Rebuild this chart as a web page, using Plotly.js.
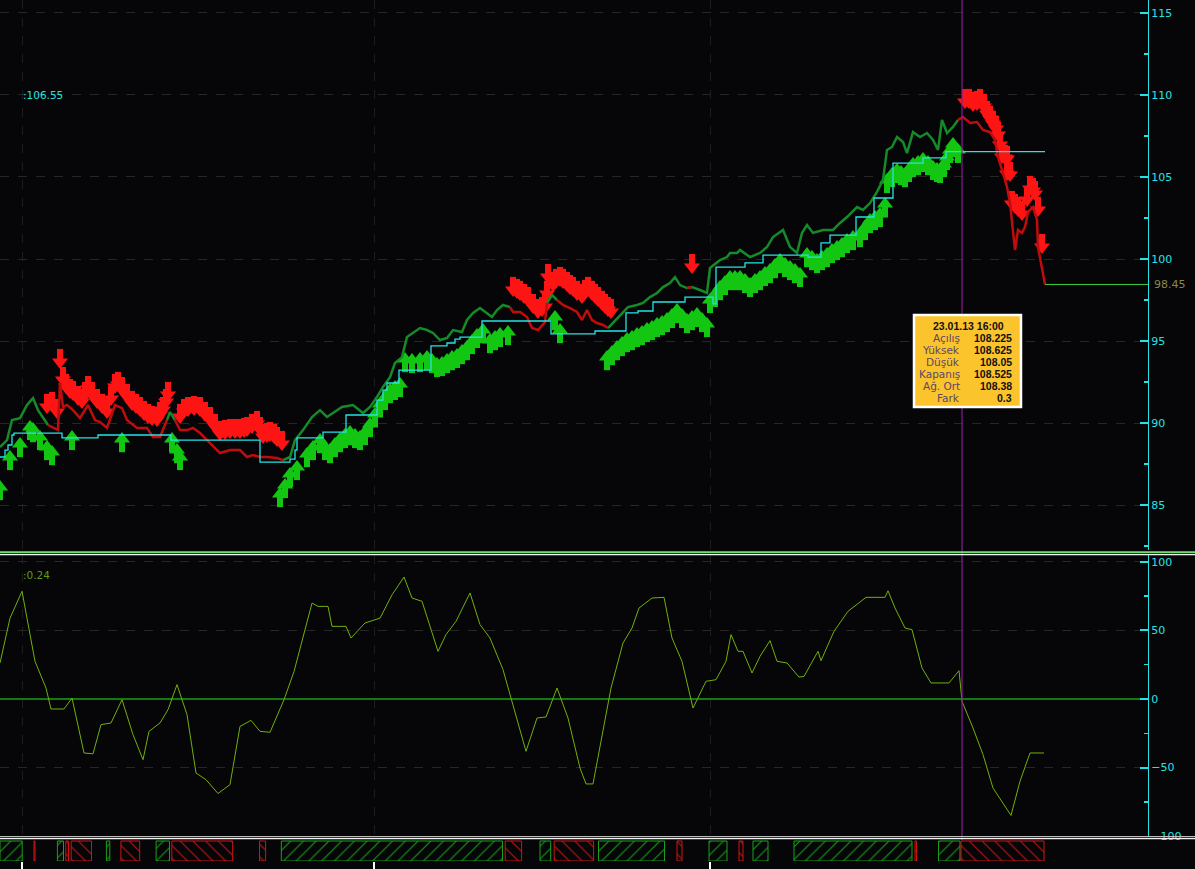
<!DOCTYPE html>
<html><head><meta charset="utf-8">
<script src="https://cdn.plot.ly/plotly-3.0.1.min.js"></script>
<style>html,body{margin:0;padding:0;background:#060608;overflow:hidden}#chart{width:1195px;height:869px}</style>
</head><body><div id="chart"></div>
<script>
// ---------- DATA ----------
const priceX = [0,7,12,20,27,33,38,43,48,
 53,58,60,63,67,73,80,88,95,100,107,115,122,127,137,147,153,160,167,
 170,175,
 180,187,193,200,210,220,230,240,247,253,260,267,277,283,
 290,295,303,312,320,327,333,342,353,363,370,377,383,390,395,402,407,413,420,427,433,440,447,453,462,467,473,480,487,492,497,503,510,
 513,520,527,532,538,545,547,
 552,557,
 563,570,577,582,587,592,597,603,608,
 613,620,628,637,643,650,657,663,670,675,680,687,
 692,
 700,707,710,717,720,727,730,737,740,750,760,767,773,783,790,797,802,807,813,823,833,840,847,857,863,870,877,883,887,892,897,903,907,913,920,927,933,938,942,947,953,958,
 963,970,977,983,990,995,998,1002,1007,1010,1013,1015,1018,1022,1025,1028,1033,1037,1038,1042,1045];
const priceClose = [88.54,88.96,90.18,90.30,91.10,91.52,90.79,90.30,89.88,
 89.70,89.57,92.44,90.98,91.10,90.79,90.30,91.10,90.18,90.06,89.70,91.10,90.91,90.18,89.70,89.70,89.15,89.15,90.18,
 90.67,90.18,
 89.57,89.57,89.70,89.39,88.78,88.17,88.35,88.35,87.93,88.05,87.93,87.93,87.87,87.74,
 87.93,88.96,89.57,90.37,90.79,90.37,90.61,90.98,91.10,90.61,90.98,91.59,92.20,92.80,93.66,94.02,95.24,95.49,95.79,95.67,95.49,95.06,95.18,95.67,95.55,96.28,96.71,97.01,96.71,96.46,96.89,97.20,97.07,
 96.77,96.77,96.46,95.79,95.67,96.16,97.32,
 97.80,97.50,
 97.20,97.01,96.77,96.28,96.89,96.28,96.10,95.98,95.79,
 96.10,96.59,97.07,97.20,97.32,97.68,97.93,98.29,98.54,98.90,98.41,98.23,
 98.29,
 98.11,97.93,99.45,99.76,99.94,100.12,100.37,100.37,100.55,100.12,100.37,100.73,101.34,101.77,100.73,100.37,101.59,102.07,101.59,101.77,101.77,102.20,102.56,103.17,102.99,103.41,104.09,104.82,106.65,106.83,107.44,107.13,106.46,107.74,107.44,107.68,107.26,106.65,108.48,107.68,108.05,108.48,
 108.66,108.29,108.35,107.87,107.74,107.26,106.22,105.43,104.39,103.41,101.77,100.55,101.77,101.59,101.95,102.87,103.17,102.38,100.73,99.51,98.45];
// trend of each price point: [direction, number of points]
const trendSegments = [['u',9],['d',19],['u',2],['d',14],['u',33],['d',7],['u',2],['d',9],['u',12],['d',1],['u',42],['d',21]];

const stopX = [0,5,8,12,14,62,98,171,260,290,295,297,323,346,377,383,387,399,431,447,455,460,482,551,595,626,638,653,685,713,716,745,763,808,821,830,856,874,893,923,946,1045];
const stopVal = [87.93,88.35,88.66,89.27,89.39,89.09,89.27,88.96,87.62,87.80,88.35,89.09,89.45,90.49,91.40,92.01,92.44,93.23,94.70,94.88,95.12,95.24,96.22,95.43,95.61,96.71,96.83,97.38,97.68,97.26,99.51,99.76,100.24,100.12,100.98,101.46,102.56,103.72,105.85,106.16,106.55,106.55];

const upX = [0,10,20,30,33,40,47,52, 72,122,172,177,180,
 280,285,290,297,307,313,320,325,330,335,340,345,350,355,360,365,370,375,380,385,390,395,400,405,412,420,427,432,437,442,447,452,457,462,467,472,477,483,490,495,500,508,
 555,560,
 607,612,617,622,627,632,637,642,647,652,657,662,667,672,677,682,687,692,697,702,707,
 710,715,720,725,730,735,740,745,750,755,760,765,770,775,780,785,790,795,800,807,812,817,822,827,832,837,842,847,853,860,865,870,875,880,885,887,892,897,901,905,909,913,918,923,928,933,937,940,944,947,950,953,958];
const upVal = [86.10,87.93,88.72,89.76,89.63,89.15,88.54,88.23, 89.15,89.02,89.02,88.35,87.93,
 85.67,86.22,86.89,87.32,88.11,88.54,88.96,88.54,88.35,88.72,89.02,89.27,89.45,89.27,89.15,89.45,89.94,90.55,91.16,91.59,92.01,92.20,92.38,93.90,93.84,93.90,94.02,93.84,93.60,93.66,93.84,94.02,94.15,94.39,94.63,95.00,95.37,95.67,95.06,95.24,95.43,95.55,
 96.46,95.67,
 94.02,94.33,94.63,94.88,95.12,95.24,95.43,95.55,95.73,95.85,96.04,96.16,96.34,96.59,96.89,96.59,96.28,96.46,96.65,96.34,96.04,
 97.50,97.87,98.29,98.60,98.90,98.90,98.90,98.72,98.48,98.72,98.90,99.15,99.33,99.63,99.94,99.70,99.51,99.33,99.09,100.30,100.12,99.94,100.12,100.30,100.55,100.73,100.91,101.16,101.34,101.52,101.95,102.38,102.56,102.74,103.35,104.82,105.18,105.43,105.30,105.18,105.49,105.79,105.91,106.10,105.91,105.61,105.49,105.43,105.79,106.22,106.65,107.01,106.65];

const dnX = [47,52,57,60,63,66,70,73,78,82,85,88,92,97,102,107,111,115,118,122,127,132,136,140,144,148,152,157,160,163,166,168,
 180,184,188,194,200,205,210,215,220,225,230,235,240,244,247,252,257,260,263,267,270,274,277,282,
 513,517,520,524,528,533,538,542,545,547,548,553,556,560,563,567,570,573,577,582,585,588,592,595,598,602,605,608,611,
 692,
 965,969,973,977,980,984,987,990,993,996,998,1000,1002,1005,1007,1007,1010,1012,1015,1018,1022,1027,1030,1033,1035,1038,1042];
const dnVal = [90.98,91.10,90.67,93.72,92.62,92.20,91.89,91.77,91.46,91.28,91.71,92.07,91.71,91.28,90.98,90.67,91.46,92.20,92.32,92.01,91.59,91.16,90.98,90.79,90.55,90.37,90.24,90.18,90.49,90.79,91.28,91.71,
 90.37,90.67,90.79,90.85,90.79,90.49,90.18,89.76,89.33,89.39,89.45,89.45,89.45,89.51,89.57,89.76,89.94,89.57,89.15,89.21,89.27,89.15,88.96,88.72,
 98.11,97.99,97.87,97.68,97.50,97.07,96.77,96.89,97.07,97.87,98.90,98.41,98.60,98.72,98.60,98.41,98.23,98.11,97.87,97.68,97.93,98.11,97.87,97.68,97.50,97.26,97.07,96.89,96.77,
 99.51,
 109.57,109.57,109.39,109.45,109.57,109.27,108.84,108.54,108.23,107.93,107.56,106.95,106.22,106.16,106.10,105.18,105.12,103.35,103.17,102.99,102.74,103.60,104.27,104.15,103.96,102.99,100.73];

const oscX = [0,10,22,35,46,51,64,72,84,93,101,111,122,133,143,149,160,168,177,187,196,206,218,230,240,251,260,270,284,294,312,318,328,332,346,351,365,380,392,404,412,422,438,446,456,470,480,490,503,526,537,546,557,568,580,586,593,611,623,632,639,652,664,672,682,693,706,716,726,731,738,743,752,760,770,777,787,799,804,818,821,834,848,866,885,888,895,905,912,922,931,949,959,962,973,983,993,1003,1011,1020,1030,1044];
const oscVal = [26.3,59,78.6,27.5,8,-7.3,-7.3,0.7,-39.4,-40,-18.7,-17.5,-0.5,-26,-44.3,-23.6,-17.5,-7.8,10.5,-11.4,-54,-58.9,-69,-62.5,-20,-15.6,-23.6,-24.3,-0.5,20,70,67.6,67.6,53,53,44.5,55.5,59,76,89,73.7,71.3,34.8,47,56.7,77.4,54.3,44.5,21.4,-38.2,-13.9,-13.1,8,-13.9,-50.4,-62,-62,8,40.9,51.8,66.4,73.7,74.2,44.5,27.5,-6.6,12.9,14.1,27.5,47,34.8,34.8,19,31.1,42.6,27.5,26.3,16,16.5,34.8,28,49.4,64,74.2,74.2,79,66.4,51.8,50.6,22.6,11.7,11.7,20.7,-1.7,-21.2,-40.6,-65,-75.9,-85,-60,-39.4,-39.4];

const stripGreenStart = [0,57.4,106.4,156.1,281.3,540,598.5,709,753,794,938.5];
const stripGreenEnd   = [22.2,63.5,109.8,169.5,502.5,550.7,664.5,727,768,912,960];
const stripRedStart = [34,65.8,71.2,120.9,171.8,259.5,505.2,554.2,677,739,915,961];
const stripRedEnd   = [35,68.5,91.5,139.7,232.7,265.6,521.6,593.6,682,743,916.5,1044];

const gridX = [22,374,710];
const cursorX = 962;
const cursorStop = 106.55;
const cursorOsc = 0.24;
const tipTitle = '23.01.13 16:00';
const tipLabels = ['Açılış','Yüksek','Düşük','Kapanış','Ağ. Ort','Fark'];
const tipValues = ['108.225','108.625','108.05','108.525','108.38','0.3'];

// ---------- STYLE / GEOMETRY ----------
const BG='#060608', CYAN='#26e3e3', GRID='#262626', VGRID='#1c1c1c';
const W=1195, H=869, PLOT_W=1148;
const X_RANGE=[0,1148];
const Y1=[82.26,115.79], Y2=[-100,105.1];
const px = x => x/PLOT_W, py = y => 1 - y/H;
const unitPerPx = (Y1[1]-Y1[0])/550;

const trend = [];
trendSegments.forEach(([d,n]) => { for (let k=0;k<n;k++) trend.push(d); });
const pick = c => priceClose.map((v,i) => (trend[i]===c || trend[i+1]===c) ? v : null);

const HEAD=14, STEM=8;
const stemOff = (0.25*HEAD + STEM/2)*unitPerPx;
const GA='#12c612', RA='#ff1414';
const traces = [
 {x:upX, y:upVal.map(v=>v-stemOff), mode:'markers', marker:{symbol:'line-ns', size:STEM, line:{width:6,color:GA}}, xaxis:'x', yaxis:'y'},
 {x:upX, y:upVal, mode:'markers', marker:{symbol:'triangle-up', size:HEAD, color:GA, line:{width:0}}, xaxis:'x', yaxis:'y'},
 {x:dnX, y:dnVal.map(v=>v+stemOff), mode:'markers', marker:{symbol:'line-ns', size:STEM, line:{width:6,color:RA}}, xaxis:'x', yaxis:'y'},
 {x:dnX, y:dnVal, mode:'markers', marker:{symbol:'triangle-down', size:HEAD, color:RA, line:{width:0}}, xaxis:'x', yaxis:'y'},
 {x:priceX, y:pick('u'), mode:'lines', line:{color:'#158a28', width:2.5}, connectgaps:false, xaxis:'x', yaxis:'y'},
 {x:priceX, y:pick('d'), mode:'lines', line:{color:'#c00c0c', width:2.5}, connectgaps:false, xaxis:'x', yaxis:'y'},
 {x:stopX, y:stopVal, mode:'lines', line:{color:CYAN, width:1.3, shape:'hv'}, xaxis:'x', yaxis:'y'},
 {x:[priceX[priceX.length-1], X_RANGE[1]], y:[priceClose[priceClose.length-1], priceClose[priceClose.length-1]], mode:'lines', line:{color:'#3fd43f', width:1}, xaxis:'x', yaxis:'y'},
 {x:oscX, y:oscVal, mode:'lines', line:{color:'#72b00a', width:1}, xaxis:'x2', yaxis:'y2'},
 {type:'bar', orientation:'h', y:stripGreenStart.map(()=>0), base:stripGreenStart, x:stripGreenStart.map((s,i)=>Math.max(stripGreenEnd[i]-s,1)), width:1,
  marker:{color:BG, line:{color:'#18a018', width:1}, pattern:{shape:'/', fgcolor:'#169c16', bgcolor:BG, size:9, solidity:0.12}}, xaxis:'x3', yaxis:'y3'},
 {type:'bar', orientation:'h', y:stripRedStart.map(()=>0), base:stripRedStart, x:stripRedStart.map((s,i)=>Math.max(stripRedEnd[i]-s,1)), width:1,
  marker:{color:BG, line:{color:'#d01212', width:1}, pattern:{shape:'\\', fgcolor:'#c81212', bgcolor:BG, size:9, solidity:0.12}}, xaxis:'x3', yaxis:'y3'}
];

const xBase = {range:X_RANGE, showticklabels:false, ticks:'', showgrid:true, gridcolor:VGRID, griddash:'dash', gridwidth:1, zeroline:false, showline:false, tickmode:'array', tickvals:gridX, fixedrange:true};
const yBase = {side:'right', showline:true, linecolor:CYAN, linewidth:1, ticks:'inside', ticklen:8, tickwidth:2, tickcolor:CYAN,
  showgrid:true, gridcolor:GRID, griddash:'dash', tickfont:{family:'DejaVu Sans', size:11, color:CYAN}, fixedrange:true};

const shapes = [
 {type:'line', xref:'x', yref:'paper', x0:cursorX, x1:cursorX, y0:py(840), y1:1, line:{color:'#8c1a98', width:1.2}, layer:'above'},
 {type:'line', xref:'paper', yref:'paper', x0:0, x1:W/PLOT_W, y0:py(552.3), y1:py(552.3), line:{color:'#6fe06f', width:2}},
 {type:'line', xref:'paper', yref:'paper', x0:0, x1:W/PLOT_W, y0:py(554.6), y1:py(554.6), line:{color:'#f2f2f2', width:1.3}},
 {type:'line', xref:'paper', yref:'paper', x0:0, x1:W/PLOT_W, y0:py(836.6), y1:py(836.6), line:{color:'#bdbdbd', width:1.3}},
 {type:'line', xref:'paper', yref:'paper', x0:0, x1:W/PLOT_W, y0:py(838.6), y1:py(838.6), line:{color:'#f0f0f0', width:1.2}},
 {type:'rect', xref:'paper', yref:'paper', x0:px(914), x1:px(1021), y0:py(407), y1:py(315), fillcolor:'#fbc32c', line:{color:'#ffffff', width:2.5}, layer:'above'}
];

const annotations = [
 {xref:'paper', yref:'paper', x:px(21), y:py(95), xanchor:'left', yanchor:'middle', showarrow:false, text:':'+cursorStop.toFixed(2), font:{family:'DejaVu Sans', size:10.5, color:CYAN}},
 {xref:'paper', yref:'paper', x:px(21), y:py(575), xanchor:'left', yanchor:'middle', showarrow:false, text:':'+cursorOsc.toFixed(2), font:{family:'DejaVu Sans', size:10.5, color:'#5f9c12'}},
 {xref:'paper', yref:'y', x:1+4/PLOT_W, y:priceClose[priceClose.length-1], xanchor:'left', yanchor:'middle', showarrow:false, text:priceClose[priceClose.length-1].toFixed(2), font:{family:'DejaVu Sans', size:11, color:'#8a8852'}},
 {xref:'paper', yref:'paper', x:px(968.5), y:py(326), xanchor:'center', yanchor:'middle', showarrow:false, text:'<b>'+tipTitle+'</b>', font:{family:'Liberation Sans', size:10.5, color:'#111111'}}
];
tipLabels.forEach((lab,i) => {
 const yy = 338 + i*11.9;
 annotations.push({xref:'paper', yref:'paper', x:px(962), y:py(yy), xanchor:'right', yanchor:'middle', showarrow:false, text:lab, font:{family:'DejaVu Sans', size:10.5, color:'#5a4868'}});
 annotations.push({xref:'paper', yref:'paper', x:px(1014), y:py(yy), xanchor:'right', yanchor:'middle', showarrow:false, text:'<b>'+tipValues[i]+'</b>', font:{family:'Liberation Sans', size:10.5, color:'#111111'}});
});

const layout = {
 width:W, height:H, margin:{l:0,r:W-PLOT_W,t:0,b:0,pad:0}, paper_bgcolor:BG, plot_bgcolor:BG, showlegend:false, hovermode:false,
 font:{family:'DejaVu Sans', size:11, color:CYAN},
 xaxis:Object.assign({}, xBase, {anchor:'y', domain:[0,1]}),
 xaxis2:Object.assign({}, xBase, {anchor:'y2', domain:[0,1]}),
 xaxis3:Object.assign({}, xBase, {anchor:'y3', domain:[0,1], showgrid:false, ticks:'outside', ticklen:8, tickwidth:2, tickcolor:'#ffffff'}),
 yaxis:Object.assign({}, yBase, {anchor:'x', domain:[py(550),1], range:Y1, dtick:5, tick0:0, zeroline:false,
   minor:{ticks:'inside', ticklen:4, tickwidth:1.5, tickcolor:CYAN, dtick:2.5, showgrid:false}}),
 yaxis2:Object.assign({}, yBase, {anchor:'x2', domain:[py(836),py(555)], range:Y2, dtick:50, tick0:0, zeroline:true, zerolinecolor:'#127a12', zerolinewidth:1.5,
   minor:{ticks:'inside', ticklen:4, tickwidth:1.5, tickcolor:CYAN, dtick:25, showgrid:false}}),
 yaxis3:{anchor:'x3', domain:[py(861),py(839)], range:[-0.5,0.6], visible:false, fixedrange:true},
 bargap:0, barmode:'overlay',
 shapes:shapes, annotations:annotations
};

Plotly.newPlot('chart', traces, layout, {staticPlot:true, displayModeBar:false});
</script></body></html>
